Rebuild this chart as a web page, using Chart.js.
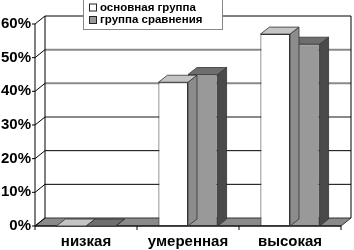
<!DOCTYPE html>
<html>
<head>
<meta charset="utf-8">
<script src="https://cdn.jsdelivr.net/npm/chart.js@4.4.1/dist/chart.umd.min.js"></script>
<style>
  html, body { margin: 0; padding: 0; background: #fff; }
  canvas { display: block; }
</style>
</head>
<body>
<canvas id="chart" width="354" height="250"></canvas>
<script>
// данные
const categories = ['низкая', 'умеренная', 'высокая'];
const seriesNames = ['основная группа', 'группа сравнения'];
const mainGroup = [0, 42.7, 57];
const compareGroup = [0, 45, 54];
const yMax = 60;
const yStep = 10;

// глубина "3D"
const DX = 10, DY = 8;      // стены
const BX = 9, BY = 7;       // столбцы

const FONT = '"Liberation Sans", Arial, sans-serif';

// цвета граней: фронт / верх / бок
const faces = [
    { front: '#ffffff', top: '#c4c4c4', side: '#8c8c8c' },
    { front: '#999999', top: '#6e6e6e', side: '#4a4a4a' }
];

function line(ctx, x1, y1, x2, y2) {
    ctx.beginPath();
    ctx.moveTo(x1, y1);
    ctx.lineTo(x2, y2);
    ctx.stroke();
}

// задняя стенка, пол, оси
const wallsPlugin = {
    id: 'walls',
    beforeDatasetsDraw(chart) {
        const ctx = chart.ctx;
        const { left, right, top, bottom } = chart.chartArea;
        const ys = chart.scales.y;
        ctx.save();

        // пол
        ctx.fillStyle = '#8a8a8a';
        ctx.strokeStyle = '#333';
        ctx.lineWidth = 1;
        ctx.beginPath();
        ctx.moveTo(left, bottom);
        ctx.lineTo(right, bottom);
        ctx.lineTo(right + DX, bottom - DY);
        ctx.lineTo(left + DX, bottom - DY);
        ctx.closePath();
        ctx.fill();
        ctx.stroke();

        // линии сетки на задней стенке
        for (let v = yStep; v < yMax; v += yStep) {
            const y = ys.getPixelForValue(v) - DY;
            if (v >= 30) {
                ctx.strokeStyle = '#8a8a8a';
                ctx.lineWidth = 2;
            } else {
                ctx.strokeStyle = '#000';
                ctx.lineWidth = 1;
            }
            line(ctx, left + DX, y, right + DX, y);
        }

        ctx.strokeStyle = '#000';
        ctx.lineWidth = 1;
        // рамка задней стенки
        line(ctx, left + DX, top - DY, right + DX, top - DY);
        line(ctx, right + DX, top - DY, right + DX, bottom - DY);
        line(ctx, left + DX, top - DY, left + DX, bottom - DY);

        // левая стенка: диагонали и ось
        for (let v = 0; v <= yMax; v += yStep) {
            const y = ys.getPixelForValue(v);
            line(ctx, left, y, left + DX, y - DY);
            line(ctx, left - 3, y, left, y);
        }
        line(ctx, left, top, left, bottom);
        line(ctx, left, bottom, right, bottom);

        // засечки оси X
        const n = categories.length;
        for (let i = 0; i <= n; i++) {
            const x = left + i * (right - left) / n;
            line(ctx, x, bottom, x, bottom + 4);
        }
        ctx.restore();
    },
    // верх и бок каждого столбца
    afterDatasetDraw(chart, args) {
        const ctx = chart.ctx;
        const f = faces[args.index];
        ctx.save();
        ctx.strokeStyle = '#333';
        ctx.lineWidth = 0.8;
        args.meta.data.forEach(bar => {
            const p = bar.getProps(['x', 'y', 'base', 'width'], true);
            const x0 = p.x - p.width / 2, x1 = p.x + p.width / 2;
            // бок
            ctx.fillStyle = f.side;
            ctx.beginPath();
            ctx.moveTo(x1, p.y);
            ctx.lineTo(x1 + BX, p.y - BY);
            ctx.lineTo(x1 + BX, p.base - BY);
            ctx.lineTo(x1, p.base);
            ctx.closePath();
            ctx.fill();
            ctx.stroke();
            // верх
            ctx.fillStyle = f.top;
            ctx.beginPath();
            ctx.moveTo(x0, p.y);
            ctx.lineTo(x1, p.y);
            ctx.lineTo(x1 + BX, p.y - BY);
            ctx.lineTo(x0 + BX, p.y - BY);
            ctx.closePath();
            ctx.fill();
            ctx.stroke();
        });
        ctx.restore();
    },
    // легенда в рамке
    afterDraw(chart) {
        const ctx = chart.ctx;
        ctx.save();
        ctx.fillStyle = '#fff';
        ctx.strokeStyle = '#888';
        ctx.lineWidth = 1;
        ctx.fillRect(83, -1, 139, 31);
        ctx.strokeRect(83.5, -0.5, 139, 30);
        ctx.font = 'bold 11.5px ' + FONT;
        ctx.textBaseline = 'middle';
        seriesNames.forEach((name, i) => {
            const y = 7.5 + i * 12.5;
            ctx.fillStyle = faces[i].front;
            ctx.strokeStyle = '#222';
            ctx.fillRect(89.5, y - 3.5, 7, 7);
            ctx.strokeRect(89.5, y - 3.5, 7, 7);
            ctx.fillStyle = '#000';
            ctx.fillText(name, 100, y);
        });
        ctx.restore();
    }
};

new Chart(document.getElementById('chart'), {
    type: 'bar',
    data: {
        labels: categories,
        datasets: [
            {
                label: seriesNames[0],
                data: mainGroup,
                backgroundColor: faces[0].front,
                borderColor: '#333',
                borderWidth: 1,
                borderSkipped: false
            },
            {
                label: seriesNames[1],
                data: compareGroup,
                backgroundColor: faces[1].front,
                borderColor: '#333',
                borderWidth: 1,
                borderSkipped: false
            }
        ]
    },
    options: {
        responsive: false,
        animation: false,
        layout: { padding: { top: 24, right: 13, left: 0, bottom: 0 } },
        datasets: { bar: { categoryPercentage: 0.58, barPercentage: 1 } },
        plugins: {
            legend: { display: false },
            tooltip: { enabled: false }
        },
        scales: {
            x: {
                grid: { display: false, drawTicks: false },
                border: { display: false },
                ticks: {
                    color: '#000',
                    padding: 7,
                    font: { family: FONT, size: 15, weight: 'bold' }
                },
                afterFit(scale) { scale.height = 24; }
            },
            y: {
                min: 0,
                max: yMax,
                grid: { display: false, drawTicks: false },
                border: { display: false },
                ticks: {
                    stepSize: yStep,
                    color: '#000',
                    padding: 4,
                    font: { family: FONT, size: 15, weight: 'bold' },
                    callback: v => v + '%'
                },
                afterFit(scale) { scale.width = 35; }
            }
        }
    },
    plugins: [wallsPlugin]
});
</script>
</body>
</html>
